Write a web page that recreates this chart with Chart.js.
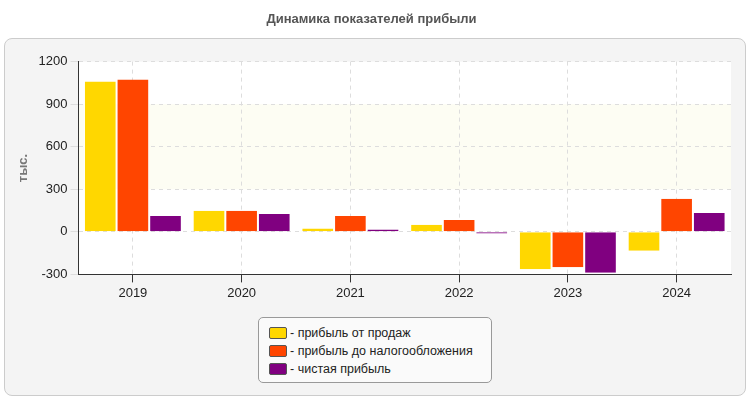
<!DOCTYPE html>
<html><head><meta charset="utf-8">
<script src="https://cdn.jsdelivr.net/npm/chart.js@4"></script>
<style>
body{margin:0;background:#fff;font-family:"Liberation Sans",Arial,sans-serif}
#wrap{position:relative;width:750px;height:400px}
#panel{position:absolute;left:4px;top:38px;width:740px;height:356px;background:#f4f4f4;border:1px solid #ccc;border-radius:8px}
canvas{position:absolute;left:0;top:0}
#leg{position:absolute;left:258px;top:317px;width:234px;height:66px;border:1px solid #999;border-radius:5px;background:#fafafa;font-size:12.5px;color:#222;padding:6px 0 0 10px;box-sizing:border-box;white-space:nowrap}
#leg div{height:18px;display:flex;align-items:center}
#leg span{display:inline-block;width:16px;height:10px;border:1px solid #555;border-radius:2px;margin-right:3px}
</style></head><body>
<div id="wrap"><div id="panel"></div><canvas id="c" width="750" height="400"></canvas>
<div id="leg"></div></div>
<script>
const categories=["2019","2020","2021","2022","2023","2024"];
const seriesNames=["- прибыль от продаж","- прибыль до налогообложения","- чистая прибыль"];
const salesProfit=[1059,148,23,50,-264,-134];
const preTaxProfit=[1073,148,111,84,-250,234];
const netProfit=[111,125,16,-11,-289,132];
const colors=["#ffd700","#ff4500","#800080"];
const leg=document.getElementById('leg');
seriesNames.forEach((n,i)=>{leg.innerHTML+=`<div><span style="background:${colors[i]}"></span>${n}</div>`});
const bg={id:'bg',beforeDraw(ch){const {ctx,chartArea:a,scales:{y}}=ch;ctx.save();ctx.fillStyle='#fff';ctx.fillRect(a.left,a.top,a.right-a.left,a.bottom-a.top);
ctx.fillStyle='#fdfdf3';const t=y.getPixelForValue(900),b=y.getPixelForValue(300);ctx.fillRect(a.left,t,a.right-a.left,b-t);ctx.restore();}};
new Chart(document.getElementById('c'),{type:'bar',
data:{labels:categories,datasets:[salesProfit,preTaxProfit,netProfit].map((d,i)=>({label:seriesNames[i],data:d,backgroundColor:colors[i],borderColor:'#fff',borderWidth:{left:1,right:1,top:0,bottom:0},categoryPercentage:0.9,barPercentage:1}))},
options:{responsive:false,animation:false,layout:{padding:{left:12,right:19,top:0,bottom:96}},
plugins:{legend:{display:false},tooltip:{enabled:false},title:{display:true,text:'Динамика показателей прибыли',color:'#555',font:{size:13,weight:'bold',family:'Liberation Sans'},padding:{top:12,bottom:34}}},
scales:{x:{grid:{color:'#ddd',offset:false,tickColor:'#333'},border:{color:'#333',dash:[4,4]},ticks:{color:'#222',font:{size:13,family:'Liberation Sans'}}},
y:{min:-300,max:1200,ticks:{stepSize:300,color:'#222',font:{size:13,family:'Liberation Sans'},callback:v=>String(v)},grid:{color:'#ddd'},border:{color:'#333',dash:[4,4]},title:{display:true,text:'тыс.',color:'#777',font:{size:13,weight:'bold',family:'Liberation Sans'}}}}},
plugins:[bg]});
</script></body></html>
